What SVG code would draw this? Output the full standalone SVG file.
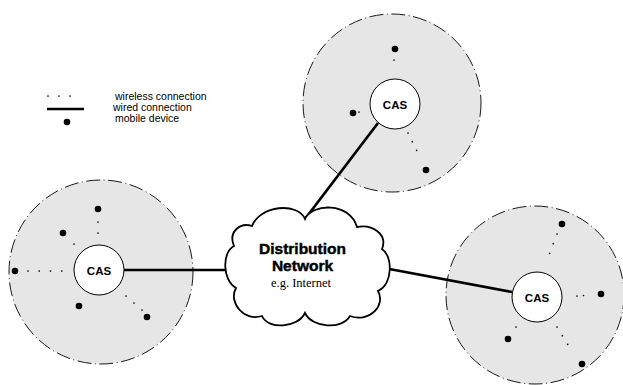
<svg xmlns="http://www.w3.org/2000/svg" width="623" height="385" viewBox="0 0 623 385">
<style>
.cell{fill:#e6e6e6;stroke:#000;stroke-width:0.9;stroke-dasharray:14 3.5 1 3.5}
.cas{fill:#fff;stroke:#000;stroke-width:1}
.cast{font-family:"Liberation Sans",Arial,sans-serif;font-weight:bold;font-size:11.5px;text-anchor:middle}
.dev{fill:#000}
.wl{stroke:#000;stroke-width:1.7;stroke-linecap:round;fill:none}
.wd{stroke:#000;stroke-width:2.7;fill:none}
.leg{font-family:"Liberation Sans",Arial,sans-serif;font-size:10.5px}
.ct{font-family:"Liberation Sans",Arial,sans-serif;font-weight:bold;font-size:15.5px;text-anchor:middle;stroke:#000;stroke-width:0.45}
</style>
<rect width="623" height="385" fill="#fff"/>
<g id="legend">
<line class="wl" x1="48" y1="96" x2="81" y2="96" stroke-dasharray="0 11"/>
<line class="wd" x1="47" y1="109" x2="84" y2="109"/>
<circle class="dev" cx="67" cy="122" r="3.3"/>
<text class="leg" x="115" y="100">wireless connection</text>
<text class="leg" x="113" y="111">wired connection</text>
<text class="leg" x="115" y="122">mobile device</text>
</g>
<g id="cell-left">
<circle class="cell" cx="101" cy="272" r="92"/>
<circle class="dev" cx="98" cy="209" r="3.3"/>
<circle class="dev" cx="63" cy="233" r="3.3"/>
<circle class="dev" cx="15" cy="271" r="3.3"/>
<circle class="dev" cx="79" cy="306" r="3.3"/>
<circle class="dev" cx="147" cy="317" r="3.3"/>
</g>
<g id="cell-top">
<circle class="cell" cx="392" cy="103" r="89"/>
<circle class="dev" cx="395" cy="49" r="3.3"/>
<circle class="dev" cx="353" cy="113" r="3.3"/>
<circle class="dev" cx="426" cy="170" r="3.3"/>
</g>
<g id="cell-right">
<circle class="cell" cx="535" cy="295" r="89"/>
<circle class="dev" cx="562" cy="224" r="3.3"/>
<circle class="dev" cx="601" cy="294" r="3.3"/>
<circle class="dev" cx="508" cy="339" r="3.3"/>
<circle class="dev" cx="582" cy="364" r="3.3"/>
</g>
<g id="connectors">
<line class="wl" x1="98" y1="222" x2="98" y2="244" stroke-dasharray="0 11"/>
<line class="wl" x1="28" y1="271" x2="73" y2="271" stroke-dasharray="0 11.25"/>
<line class="wl" x1="126" y1="296" x2="142" y2="310" stroke-dasharray="0 10.63"/>
<line class="wl" x1="74" y1="244" x2="74" y2="244" stroke-dasharray="0 10"/>
<line class="wl" x1="394" y1="60" x2="394" y2="71" stroke-dasharray="0 11"/>
<line class="wl" x1="359" y1="112" x2="368" y2="108" stroke-dasharray="0 9.85"/>
<line class="wl" x1="408" y1="133" x2="421" y2="159" stroke-dasharray="0 9.69"/>
<line class="wl" x1="557" y1="234" x2="546" y2="263" stroke-dasharray="0 10.34"/>
<line class="wl" x1="577" y1="296" x2="590" y2="295" stroke-dasharray="0 6.52"/>
<line class="wl" x1="557" y1="327" x2="573" y2="353" stroke-dasharray="0 10.18"/>
<line class="wl" x1="516" y1="327" x2="516" y2="327" stroke-dasharray="0 10"/>
<line class="wd" x1="124" y1="270" x2="229" y2="270"/>
<line class="wd" x1="378" y1="123" x2="305" y2="219"/>
<line class="wd" x1="384" y1="268" x2="512" y2="292"/>
</g>
<g id="cas-left">
<circle class="cas" cx="99" cy="270" r="25"/>
<text class="cast" x="99" y="274.5">CAS</text>
</g>
<g id="cas-top">
<circle class="cas" cx="395" cy="104" r="25"/>
<text class="cast" x="395" y="108.5">CAS</text>
</g>
<g id="cas-right">
<circle class="cas" cx="537" cy="297" r="25"/>
<text class="cast" x="537" y="301.5">CAS</text>
</g>
<g id="cloud">
<path d="M305,219 C312,203 350,202 357,227 C372,224 388,234 382,249 C393,256 393,284 378,291 C386,305 370,323 350,316 C342,330 312,328 305,313 C298,328 268,330 262,316 C244,322 228,302 236,288 C222,280 222,252 234,246 C228,232 240,222 252,226 C260,205 298,202 305,219 Z" fill="#fff" stroke="#000" stroke-width="1.8"/>
<text class="ct" x="302.5" y="254">Distribution</text>
<text class="ct" x="302.5" y="271">Network</text>
<text x="301" y="287" font-family="'Liberation Serif','Times New Roman',serif" font-size="12.5" text-anchor="middle">e.g. Internet</text>
</g>
</svg>
